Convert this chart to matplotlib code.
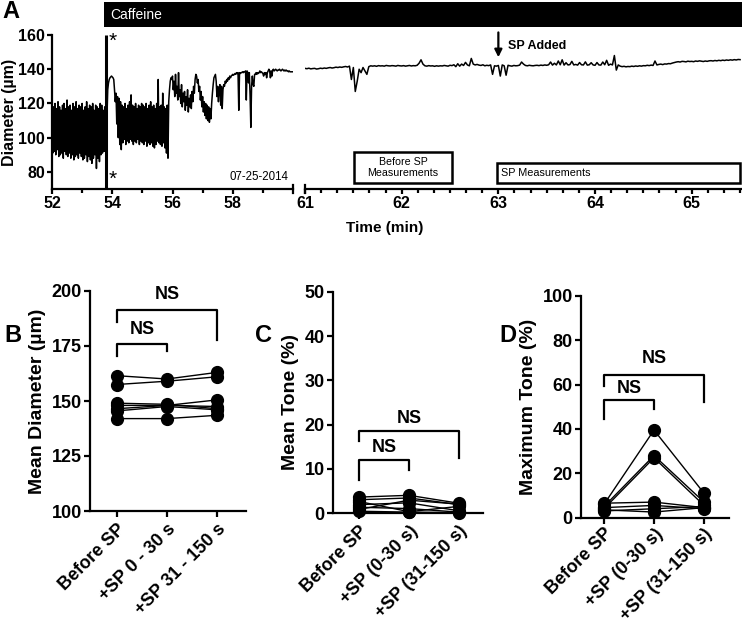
import numpy as np
import matplotlib
matplotlib.use('Agg')
import matplotlib.pyplot as plt
from matplotlib.patches import Rectangle
from matplotlib.ticker import FixedLocator

plt.rcParams['font.family'] = ['Liberation Sans', 'DejaVu Sans']

# ---------------- DATA ----------------
# Panel A trace: diameter (um), left part sampled every 0.025 min from 52.0 min
trace_left_start = 52.0
trace_left_step = 0.025
trace_left = [
    119,91,118,92,120,90,117,93,121,89,
    118,90,116,91,119,88,120,92,117,90,
    122,89,118,91,119,88,116,90,120,87,
    118,89,121,90,117,88,119,91,118,89,
    120,87,116,88,118,90,121,86,117,89,
    119,87,118,85,120,88,116,90,119,82,
    118,88,117,86,120,90,119,91,116,92,
    118,92,119,113,128,132,134,135,135.5,136,
    135.5,135,134,128,121,126,108,124,100,123,
    96,121,93,119,97,118,99,120,96,117,
    98,119,97,121,99,125,98,119,96,118,
    98,120,97,117,99,119,96,118,98,120,
    97,119,96,118,98,120,95,117,97,119,
    96,121,97,118,95,119,94,117,96,120,
    98,134,97,118,96,119,95,126,97,118,
    94,117,91,119,88,121,128,133,135,134,
    136,128,133,124,137,126,130,122,138,124,
    128,120,131,118,126,121,127,116,124,119,
    128,115,123,118,125,117,127,121,130,126,
    134,137,136,132,134,127,130,122,127,118,
    124,115,121,113,120,111,119,110,118,109,
    117,111,120,126,131,135,136,137,133,124,
    130,121,128,131,119,130,117,128,131,130,
    133,132,134,133,135,134,136,135,136,136.5,
    137,136.5,137,137.5,137,138,137.5,138,116,138,
    137.5,138,138,138.5,138,138.5,138.5,139,122,139,
    138,132,138,125,106,130,136,131,130,137,
    137,138,137,138,137.5,138,139,138,138.5,138,
    137.5,136,138,137,138,135,138,139,140,139,
    135,139,136,139.5,140,139,139.5,140,139.5,139,
    139.5,139.5,140,139.5,139,139.5,140,139.5,139,139.5,
    139,139.5,139,139,138.5,139,138.5,138.5,138.5,138.5,
    138.5,
]
# right part sampled every 0.02 min from 61.0 min
trace_right_start = 61.0
trace_right_step = 0.02
trace_right = [
    140.5,140.3,140.6,140.2,140.4,140.5,140.1,140.3,140.6,140.4,
    140.7,140.5,140.8,141.0,140.7,140.9,141.2,141.0,141.3,141.1,
    141.4,141.6,141.3,141.8,134,141,127,133,140,138,
    141,139,137,141.5,142,141.8,142,141.7,142.1,141.9,
    142,141.8,142.2,142,141.9,142.1,142,141.8,142.2,142,
    141.9,142.1,141.8,142,142.2,141.9,142.1,142,142.3,143.5,
    145.5,143,142,141.8,142.1,141.9,142,141.7,142,141.8,
    142,141.9,142.2,142,141.8,142.3,142.1,142.6,141.5,143.2,
    141.8,143,142.2,144,142.5,142,146.3,143,142.5,142.8,
    142.4,142.2,142.6,142,142.3,142.1,142.5,137,142,141.8,
    142.2,136,142.5,142,136.5,142.3,142,141.8,142.2,142,
    142.1,142.4,144.2,143,142.2,142,142.3,142.1,142,142.2,
    142.3,142.1,142.4,142.2,142.5,142.3,142.6,144.2,142.4,143.5,
    142.5,144.8,142.6,145.5,142.4,143.8,142.5,142.7,144.6,142.5,
    142.8,142.4,143.9,142.6,142.5,144.3,142.4,142.6,143.8,142.5,
    142.3,143.9,142.5,142.4,144.2,142.6,145.2,142.3,143,142.5,
    148,139.5,142.5,141.8,141.5,141.7,141.4,141.6,141.5,141.8,
    141.6,141.9,141.7,142,141.8,142.1,142,142.3,142.1,142.4,
    142.2,144.8,142.5,142.8,143,142.7,143.1,143,143.3,143.2,
    143.6,143.9,144.2,144.4,144.2,144.6,144.5,144.3,144.7,144.5,
    144.6,144.4,144.8,144.6,144.9,144.7,144.5,144.8,144.6,144.9,
    145,144.8,145.1,144.9,145.2,145,145.3,145.1,145.4,145.2,
    145.5,145.3,145.6,145.4,145.7,145.6,
]
artifact_time = 53.8
caffeine_start = 53.74
sp_added_time = 63.0
before_sp_window = (61.51, 62.52)
sp_window = (62.99, 65.5)

# Panels B-D
categories_B = ['Before SP', '+SP 0 - 30 s', '+SP 31 - 150 s']
categories_CD = ['Before SP', '+SP (0-30 s)', '+SP (31-150 s)']

diam_before = [161.5, 157.5, 149, 148, 146.5, 145.5, 142]
diam_sp0 = [160, 159, 148.5, 148, 148, 147.5, 142]
diam_sp31 = [163, 161, 146.5, 150.5, 147.5, 146, 143.5]

tone_before = [3.6, 3.0, 2.6, 1.9, 1.3, 0.8, 0.4]
tone_sp0 = [4.0, 3.4, 0.3, 2.3, 1.0, 2.9, 0.2]
tone_sp31 = [2.2, 1.9, 1.5, 0.5, 0.2, 2.0, 0.1]

max_before = [6, 5, 4, 6.5, 4.5, 3, 3.5]
max_sp0 = [39.5, 28, 27, 7, 5.5, 4, 2.5]
max_sp31 = [11, 7, 5.5, 4.5, 4, 5, 4.5]

# brackets: (x0, x1, top, left_leg_bottom, right_leg_bottom, text_y)
brackets_B = [(0, 1, 176, 170.5, 172.5, 182.3), (0, 2, 191.5, 186, 177.5, 198.5)]
brackets_C = [(0, 1, 12, 7.5, 9.8, 14.8), (0, 2, 18.5, 16.2, 12.4, 21.4)]
brackets_D = [(0, 1, 53, 44.3, 48.8, 58.2), (0, 2, 64.2, 59.3, 52.2, 72)]

# ---------------- FIGURE ----------------
W, H = 742, 622
fig = plt.figure(figsize=(W / 100, H / 100), dpi=100)


def frect(x0, y0, x1, y1):
    return [x0 / W, 1 - y1 / H, (x1 - x0) / W, (y1 - y0) / H]


SPW = 1.6
TICKFS = 11.5

# ---- Panel A ----
t_left = trace_left_start + trace_left_step * np.arange(len(trace_left))
t_right = trace_right_start + trace_right_step * np.arange(len(trace_right))

axL = fig.add_axes(frect(52, 35, 293, 189))
axL.plot(t_left, trace_left, color='k', lw=1.1)
axL.vlines(artifact_time, 70, 160, color='k', lw=2.2)
axL.set_xlim(52, 60)
axL.set_ylim(70, 160)
axL.set_xticks([52, 54, 56, 58])
axL.xaxis.set_minor_locator(FixedLocator([53, 55, 57, 59]))
axL.set_yticks([80, 100, 120, 140, 160])
axL.set_ylabel('Diameter (µm)', fontsize=11.5, fontweight='bold', labelpad=1)
axL.text(53.88, 156.5, '*', fontsize=15, ha='left', va='center')
axL.text(53.88, 75.5, '*', fontsize=15, ha='left', va='center')
axL.text(59.85, 77, '07-25-2014', fontsize=8.3, ha='right', va='center')
axL.plot([1, 1], [-0.025, 0.025], transform=axL.transAxes, clip_on=False, color='k', lw=SPW)

axR = fig.add_axes(frect(305, 35, 742, 189))
axR.plot(t_right, trace_right, color='k', lw=1.1)
axR.set_xlim(61, 65.52)
axR.set_ylim(70, 160)
axR.set_xticks([61, 62, 63, 64, 65])
axR.xaxis.set_minor_locator(FixedLocator(61 + np.arange(28) / 6))
axR.set_yticks([])
axR.spines['left'].set_visible(False)
axR.plot([0, 0], [-0.025, 0.025], transform=axR.transAxes, clip_on=False, color='k', lw=SPW)
axR.add_patch(Rectangle((before_sp_window[0], 73.6), before_sp_window[1] - before_sp_window[0], 18.0,
                        fill=False, lw=1.8, ec='k'))
axR.text(np.mean(before_sp_window), 82.6, 'Before SP\nMeasurements', ha='center', va='center',
         fontsize=7.7, linespacing=1.1)
axR.add_patch(Rectangle((sp_window[0], 73.6), sp_window[1] - sp_window[0], 11.7,
                        fill=False, lw=1.8, ec='k', clip_on=False))
axR.text(sp_window[0] + 0.04, 79.5, 'SP Measurements', ha='left', va='center', fontsize=7.8)
axR.annotate('', xy=(sp_added_time, 147.0), xytext=(sp_added_time, 161.5),
             arrowprops=dict(arrowstyle='-|>', lw=1.6, color='k', mutation_scale=11,
                             shrinkA=0, shrinkB=0), annotation_clip=False)
axR.text(sp_added_time + 0.1, 153.3, 'SP Added', fontsize=9, fontweight='bold', ha='left', va='center')

for ax in (axL, axR):
    for s in ('top', 'right'):
        ax.spines[s].set_visible(False)
    for s in ('left', 'bottom'):
        ax.spines[s].set_linewidth(SPW)
    ax.tick_params(which='major', direction='out', length=3.5, width=SPW, labelsize=TICKFS, pad=1.5)
    ax.tick_params(which='minor', direction='out', length=3.0, width=SPW)
    for lab in ax.get_xticklabels() + ax.get_yticklabels():
        lab.set_fontweight('bold')

fig.text(385 / W, 1 - 228 / H, 'Time (min)', ha='center', va='center', fontsize=11, fontweight='bold')

# caffeine bar
xbar0 = 52 + (caffeine_start - 52) * (293 - 52) / 8.0
fig.add_artist(Rectangle((xbar0 / W, 1 - 27 / H), (W - xbar0) / W, 25 / H, transform=fig.transFigure,
                         color='k', lw=0))
fig.text((xbar0 + 6) / W, 1 - 15 / H, 'Caffeine', color='white', fontsize=10, va='center', ha='left')

# ---- Bottom panels ----
def dot_panel(rect, xlim, ylim, yticks, cats, series, brackets, ylabel, xfs, xpad):
    ax = fig.add_axes(frect(*rect))
    x = np.arange(len(cats))
    data = np.array(series)
    for j in range(data.shape[1]):
        ax.plot(x, data[:, j], color='k', lw=1.0, marker='o', ms=8.5, mfc='k', mec='k', clip_on=False, zorder=3)
    for (a, b, top, lb, rb, ty) in brackets:
        ax.plot([a, a, b, b], [lb, top, top, rb], color='k', lw=1.6, clip_on=False)
        ax.text((a + b) / 2, ty, 'NS', ha='center', va='center', fontsize=13, fontweight='bold')
    ax.set_xlim(*xlim)
    ax.set_ylim(*ylim)
    ax.set_yticks(yticks)
    ax.set_xticks(x)
    ax.set_xticklabels(cats, rotation=45, ha='right', rotation_mode='anchor', fontsize=xfs, fontweight='bold')
    for lab in ax.get_yticklabels():
        lab.set_fontweight('bold')
    ax.tick_params(direction='out', length=4, width=SPW, labelsize=13, pad=2)
    ax.tick_params(axis='x', pad=xpad)
    for s in ('top', 'right'):
        ax.spines[s].set_visible(False)
    for s in ('left', 'bottom'):
        ax.spines[s].set_linewidth(SPW)
    ax.set_ylabel(ylabel, fontsize=14, fontweight='bold', labelpad=4)
    return ax


axB = dot_panel((90, 291, 246, 511), (-0.54, 2.58), (100, 200), [100, 125, 150, 175, 200],
                categories_B, [diam_before, diam_sp0, diam_sp31], brackets_B, 'Mean Diameter (µm)', 12, 3)
axC = dot_panel((333, 292, 483, 513), (-0.52, 2.48), (0, 50), [0, 10, 20, 30, 40, 50],
                categories_CD, [tone_before, tone_sp0, tone_sp31], brackets_C, 'Mean Tone (%)', 11.6, 3)
axD = dot_panel((581, 296, 729, 517.6), (-0.46, 2.5), (0, 100), [0, 20, 40, 60, 80, 100],
                categories_CD, [max_before, max_sp0, max_sp31], brackets_D, 'Maximum Tone (%)', 10.7, 1.5)

for lab, px, py in [('A', 2, 11), ('B', 4, 336), ('C', 255, 336), ('D', 499, 336)]:
    fig.text(px / W, 1 - py / H, lab, fontsize=17, fontweight='bold', ha='left', va='center')

fig.savefig('out.png', dpi=100)
